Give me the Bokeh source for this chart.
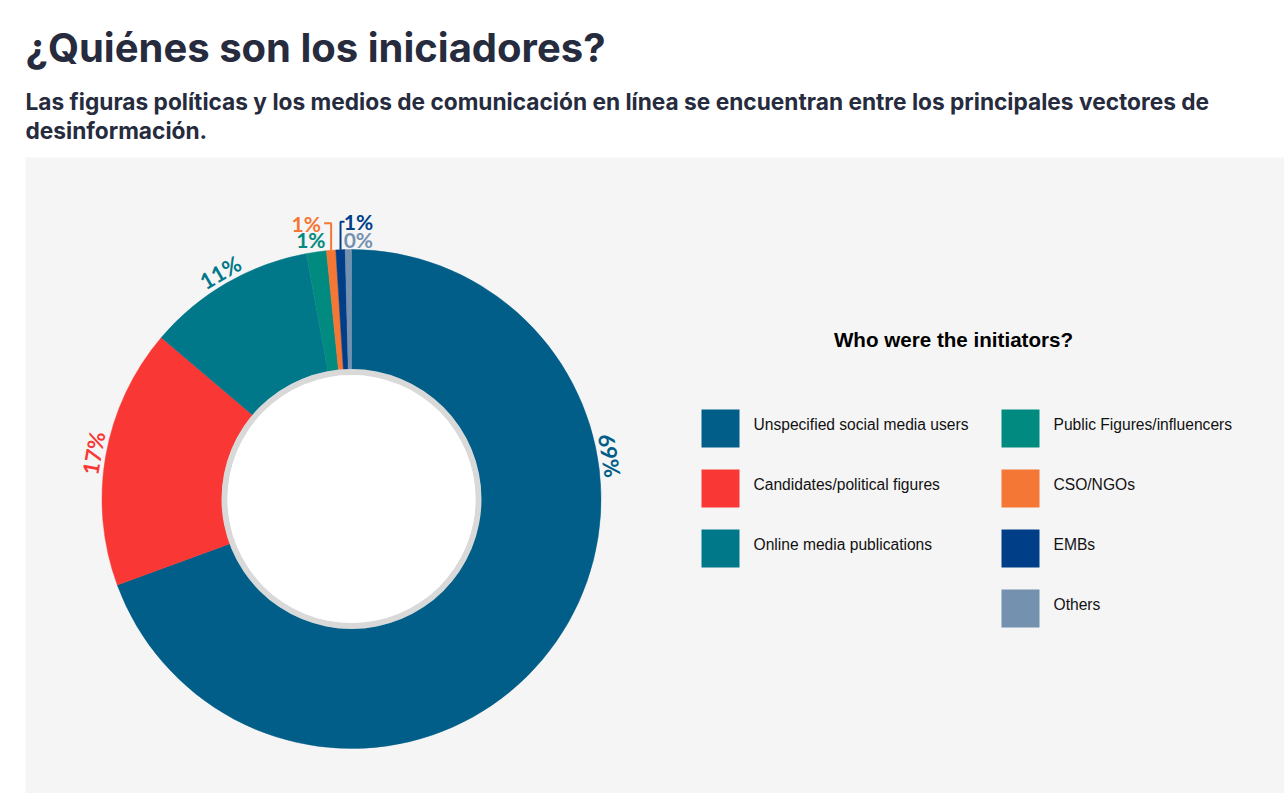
import numpy as np
from bokeh.plotting import figure
from bokeh.models import Range1d, ColumnDataSource
from bokeh.core.properties import value
from bokeh.embed import file_html
from bokeh.resources import INLINE

# ---- data ----
categories = ["Unspecified social media users", "Candidates/political figures",
              "Online media publications", "Public Figures/influencers",
              "CSO/NGOs", "EMBs", "Others"]
shares = [69.4, 16.8, 10.9, 1.3, 0.6, 0.6, 0.4]
colors = ["#015e88", "#f93835", "#017889", "#018b80", "#f47735", "#003f88", "#7591b0"]

title = "¿Quiénes son los iniciadores?"
subtitle_lines = ["Las figuras políticas y los medios de comunicación en línea se encuentran entre los principales vectores de",
                  "desinformación."]
legend_title = "Who were the initiators?"

# ---- layout / style ----
W, H = 1284, 793
def Y(sy):
    return H - sy

cx, cy = 351, Y(498.5)
R_OUT, R_IN = 249.5, 129.5
LABEL_R = 262
big_anchor = [0.322, 0.5, 0.5]          # position along slice for big labels
small_dx = [-5.5, -25, 18, 10]          # small label offsets from slice edge
small_dy = [12, 27, 28, 10]
leader_h = [None, 27, 28, None]
leader_dx = [0, -7, 4, 0]

p = figure(width=W, height=H, x_range=Range1d(0, W), y_range=Range1d(0, H),
           output_backend="svg", toolbar_location=None, min_border=0,
           x_axis_type=None, y_axis_type=None)
p.grid.visible = False
p.outline_line_color = None
p.background_fill_color = "white"
p.border_fill_color = "white"

# panel
p.quad(left=[25], right=[W], top=[Y(157)], bottom=[Y(H)], fill_color="#f5f5f5", line_color=None)

# titles
p.text(x=[25], y=[Y(47)], text=[title], text_font=value("Inter"), text_font_style="bold",
       text_font_size="40px", text_color="#262b3e", text_baseline="middle")
for i, line in enumerate(subtitle_lines):
    p.text(x=[25], y=[Y(100.5 + 29 * i)], text=[line], text_font=value("Inter"), text_font_style="bold",
           text_font_size="22.7px", text_color="#262b3e", text_baseline="middle")

# donut
frac = np.array(shares) / sum(shares)
cum = np.concatenate([[0.0], np.cumsum(frac)])
start = np.pi / 2 - 2 * np.pi * cum[:-1]
end = np.pi / 2 - 2 * np.pi * cum[1:]
src = ColumnDataSource(dict(start=start, end=end, color=colors))
p.annular_wedge(x=cx, y=cy, inner_radius=R_IN, outer_radius=R_OUT, start_angle="start",
                end_angle="end", direction="clock", fill_color="color", line_color="color",
                line_width=0.5, source=src)
p.annulus(x=[cx], y=[cy], inner_radius=124, outer_radius=R_IN + 0.5, fill_color="#d9d9d9", line_color=None)
p.circle(x=[cx], y=[cy], radius=124, fill_color="white", line_color=None)

# big labels
for i in range(3):
    a = start[i] + (end[i] - start[i]) * big_anchor[i]
    p.text(x=[cx + LABEL_R * np.cos(a)], y=[cy + LABEL_R * np.sin(a)], text=[f"{round(shares[i])}%"],
           angle=a - np.pi / 2, text_align="center", text_baseline="middle", text_color=colors[i],
           text_font=value("Lato"), text_font_style="bold", text_font_size="22px")

# small labels
for j, i in enumerate(range(3, 7)):
    a = (start[i] + end[i]) / 2
    ax, ay = cx + R_OUT * np.cos(a), cy + R_OUT * np.sin(a)
    p.text(x=[ax + small_dx[j]], y=[ay + small_dy[j]], text=[f"{round(shares[i])}%"],
           text_align="center", text_baseline="middle", text_color=colors[i],
           text_font=value("Lato"), text_font_style="bold", text_font_size="21px")
    if leader_h[j]:
        p.line(x=[ax, ax, ax + leader_dx[j]], y=[ay, ay + leader_h[j], ay + leader_h[j]],
               line_color=colors[i], line_width=2)

# legend
p.text(x=[953], y=[Y(339)], text=[legend_title], text_align="center", text_baseline="middle",
       text_font=value("Liberation Sans"), text_font_style="bold", text_font_size="20.6px", text_color="#000000")
col_x = [701, 1001]
row_y = [409, 469, 529, 589]
for i, cat in enumerate(categories):
    col = 0 if i < 3 else 1
    row = i if i < 3 else i - 3
    sx = col_x[col]
    sy = row_y[row]
    p.rect(x=[sx + 19], y=[Y(sy + 19)], width=38, height=38, fill_color=colors[i], line_color=None)
    p.text(x=[sx + 52], y=[Y(sy + 15)], text=[cat], text_baseline="middle",
           text_font=value("Liberation Sans"), text_font_size="15.6px", text_color="#111111")

open("out.html", "w").write(file_html(p, INLINE))
